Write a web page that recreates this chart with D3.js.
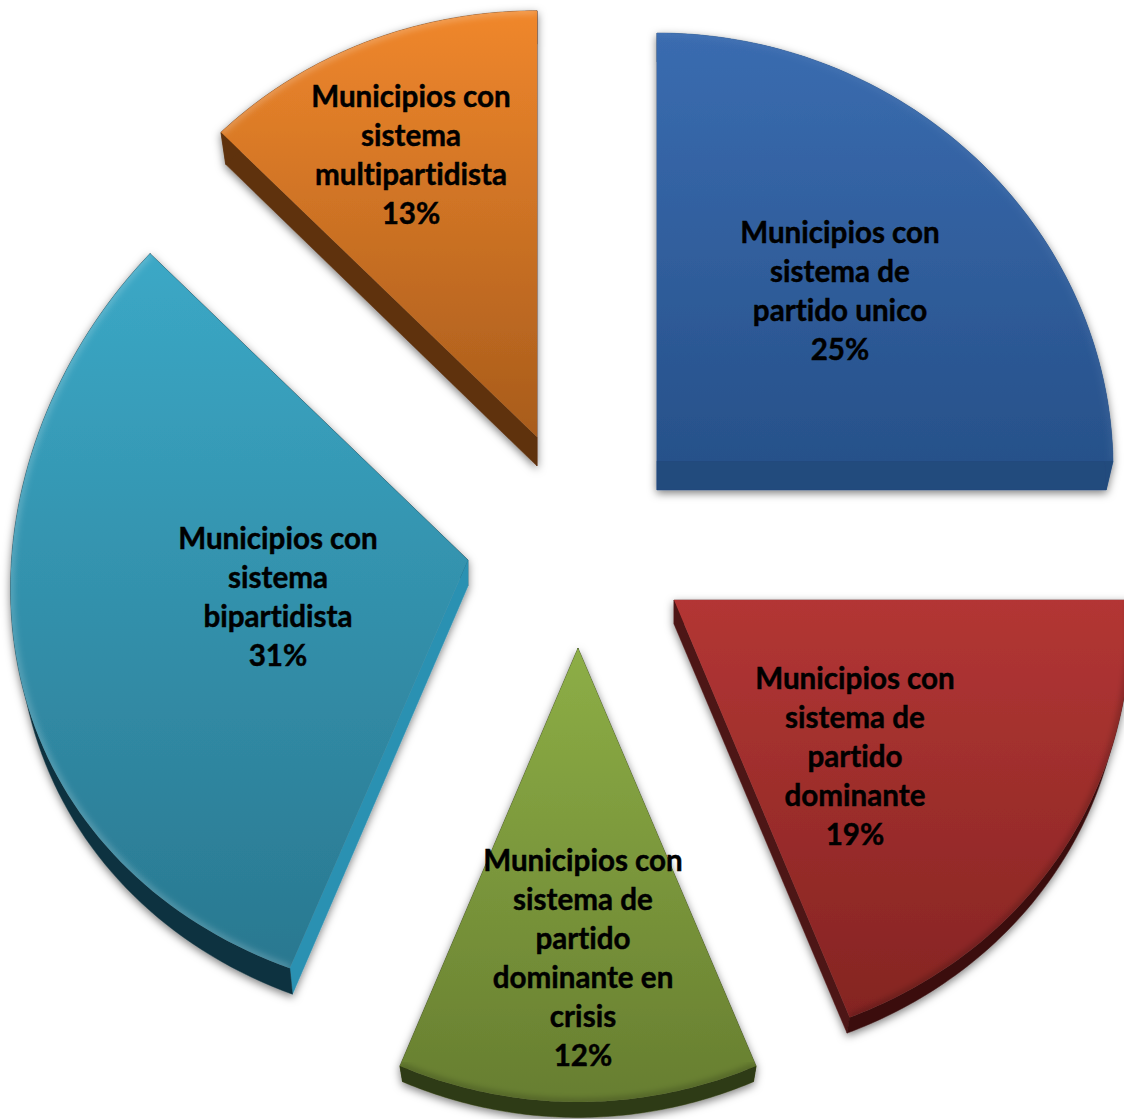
<!DOCTYPE html>
<html>
<head>
<meta charset="utf-8">
<script src="https://cdn.jsdelivr.net/npm/d3@7"></script>
<style>
  html, body { margin: 0; background: #fff; overflow: hidden; }
  text { font-family: Lato, "Open Sans", sans-serif; font-weight: 700; fill: #000; stroke: #000; stroke-width: 0.45; font-variant-ligatures: none; }
</style>
</head>
<body>
<div id="chart"></div>
<script>
// ── Data ──────────────────────────────────────────────────────────────────────
const categories = [
  ['Municipios con', 'sistema de', 'partido unico'],
  ['Municipios con', 'sistema de', 'partido', 'dominante'],
  ['Municipios con', 'sistema de', 'partido', 'dominante en', 'crisis'],
  ['Municipios con', 'sistema', 'bipartidista'],
  ['Municipios con', 'sistema', 'multipartidista'],
];
const values = [25, 19, 12, 31, 13];

// ── Layout per slice (exploded, with a hand-fitted perspective warp) ──────────
const W = 1124, H = 1119;
const layout = [
  { cx: 657, cy: 461, rx: 456, ry: 428, ax: 0.015, ay: 0.000, depth: 29, sy: 1.00, labelX: 840, labelY: 232.5 },
  { cx: 674, cy: 600, rx: 456, ry: 449, ax: 0.050, ay: 0.000, depth: 24, sy: 0.98, labelX: 855, labelY: 678 },
  { cx: 578, cy: 648, rx: 457, ry: 390, ax: 0.063, ay: 0.164, depth: 20, sy: 0.99, labelX: 583, labelY: 860 },
  { cx: 468, cy: 560, rx: 456.5, ry: 444, ax: 0.065, ay: -0.012, depth: 26, sy: 1.00, labelX: 278, labelY: 538 },
  { cx: 537, cy: 437, rx: 457, ry: 486, ax: 0.075, ay: 0.123, depth: 29, sy: 0.99, labelX: 411, labelY: 96 },
];
const styles = [
  { top: ['#3a6cb0', '#27518a'], start: '#214b7d', arc: '#214b7d', end: '#214b7d', bevel: '#ffffff', bevelOp: 0.06 },
  { top: ['#b33634', '#842422'], start: '#4d1514', arc: '#3a0f0e', end: '#4d1514', bevel: '#000000', bevelOp: 0.25 },
  { top: ['#8dae46', '#677e30'], start: '#2e3a12', arc: '#2e3a12', end: '#2e3a12', bevel: '#000000', bevelOp: 0.25 },
  { top: ['#3ba8c6', '#2a7890'], start: '#2b91b2', arc: '#10323f', end: '#10323f', bevel: '#ffffff', bevelOp: 0.22 },
  { top: ['#f0872c', '#a85c1c'], start: '#5e3310', arc: '#5e3310', end: '#5e3310', bevel: '#ffffff', bevelOp: 0.25 },
];
const LINE_H = 39.1, FONT = 29.6;

const svg = d3.select('#chart').append('svg').attr('width', W).attr('height', H).style('display', 'block');
const defs = svg.append('defs');

const shadow = defs.append('filter').attr('id', 'shadow')
  .attr('x', '-10%').attr('y', '-10%').attr('width', '120%').attr('height', '120%');
shadow.append('feDropShadow').attr('dx', 0).attr('dy', 3).attr('stdDeviation', 4)
  .attr('flood-color', '#000').attr('flood-opacity', 0.5);
defs.append('filter').attr('id', 'soft').append('feGaussianBlur').attr('stdDeviation', 3);

const pie = d3.pie().sort(null).value(d => d);
const line = d3.line();

// Maps a point on the unit pie to the page, warped so lower parts get wider
function project(l, angle) {
  const u = Math.sin(angle), v = -Math.cos(angle);
  return [l.rx * u * (1 + l.ax * v), l.ry * v * (1 + l.ay * v)];
}

const lower = (l, p) => [l.cx + p[0] * 0.985, l.cy + p[1] * l.sy + l.depth];
const upper = (l, p) => [l.cx + p[0], l.cy + p[1]];

pie(values).forEach((arc, i) => {
  const l = layout[i], s = styles[i];
  const steps = d3.range(0, 81).map(k => arc.startAngle + (arc.endAngle - arc.startAngle) * k / 80);
  const rim = steps.map(a => project(l, a));
  const apex = [0, 0];

  const grad = defs.append('linearGradient').attr('id', `top-${i}`)
    .attr('x1', 0).attr('y1', 0).attr('x2', 0).attr('y2', 1);
  grad.append('stop').attr('offset', '0%').attr('stop-color', s.top[0]);
  grad.append('stop').attr('offset', '100%').attr('stop-color', s.top[1]);

  const g = svg.append('g').attr('filter', 'url(#shadow)');

  const face = (pts, fill) => g.append('path')
    .attr('d', line([...pts.map(p => upper(l, p)), ...pts.slice().reverse().map(p => lower(l, p))]) + 'Z')
    .attr('fill', fill).attr('stroke', fill).attr('stroke-width', 0.5);

  face([apex, rim[rim.length - 1]], s.end);
  face([apex, rim[0]], s.start);
  face(rim, s.arc);

  const outline = line([apex, ...rim].map(p => upper(l, p))) + 'Z';
  g.append('path').attr('d', outline).attr('fill', `url(#top-${i})`);

  // soft bevel along the rim, kept inside the top face
  defs.append('clipPath').attr('id', `clip-${i}`).append('path').attr('d', outline);
  svg.append('g').attr('clip-path', `url(#clip-${i})`).append('path')
    .attr('d', line(rim.map(p => upper(l, p))))
    .attr('fill', 'none').attr('stroke', s.bevel).attr('stroke-opacity', s.bevelOp)
    .attr('stroke-width', 6).attr('filter', 'url(#soft)');
});

// Labels go last so they sit over every slice
values.forEach((val, i) => {
  const l = layout[i];
  const t = svg.append('text').attr('text-anchor', 'middle').attr('font-size', FONT);
  [...categories[i], `${val}%`].forEach((txt, k) => {
    t.append('tspan').attr('x', l.labelX).attr('y', l.labelY + k * LINE_H + 10.5).text(txt);
  });
});
</script>
</body>
</html>
